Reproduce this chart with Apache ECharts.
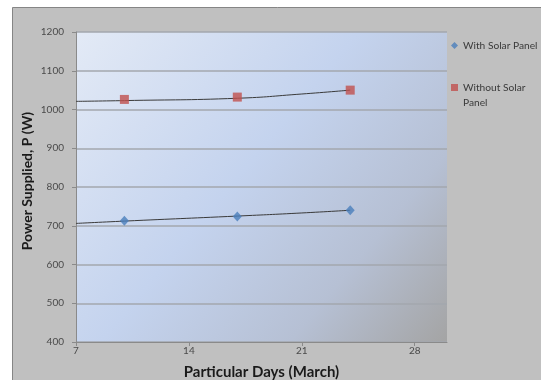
<!DOCTYPE html>
<html>
<head>
<meta charset="utf-8">
<script src="https://cdn.jsdelivr.net/npm/echarts@6/dist/echarts.min.js"></script>
<style>
  html, body { margin: 0; padding: 0; background: #ffffff; }
  #chart { width: 541px; height: 380px; }
</style>
</head>
<body>
<div id="chart"></div>
<script>
// Measured days in March
const days = [10, 17, 24];
// Power supplied (W)
const withSolar = [713, 724, 740];
const withoutSolar = [1026, 1032, 1050];

// Fitted trend curves, drawn from day 7 onward
const trendDays = [7, 10, 17, 21, 24];
const withSolarTrend = [706, 712, 725, 733, 740];
const withoutSolarTrend = [1021, 1023, 1029, 1040, 1050];

const xTicks = [7, 14, 21, 28];
const yTicks = [400, 500, 600, 700, 800, 900, 1000, 1100, 1200];

const FONT = 'Lato, "Open Sans", sans-serif';

const pairs = (xs, ys) => xs.map((x, i) => [x, ys[i]]);

const chart = echarts.init(document.getElementById('chart'), null, { renderer: 'canvas' });

chart.setOption({
  backgroundColor: '#ffffff',
  animation: false,
  graphic: [
    {
      type: 'rect',
      z: -10,
      silent: true,
      shape: { x: 12.5, y: 7.5, width: 540, height: 380 },
      style: { fill: '#c0c0c0', stroke: '#858585', lineWidth: 1 }
    },
    {
      type: 'text',
      silent: true,
      x: 27,
      y: 181,
      rotation: Math.PI / 2,
      style: {
        text: 'Power Supplied, P (W)',
        fontFamily: FONT, fontSize: 14, fontWeight: 'bold',
        fill: '#1a1a1a', align: 'center', verticalAlign: 'middle'
      }
    }
  ],
  grid: {
    left: 76, right: 94, top: 32, bottom: 38,
    containLabel: false,
    outerBoundsMode: 'none',
    show: true,
    borderWidth: 0,
    backgroundColor: new echarts.graphic.LinearGradient(0, 0, 1, 1, [
      { offset: 0, color: '#e3eaf6' },
      { offset: 0.45, color: '#c4d3ee' },
      { offset: 0.75, color: '#b6c0d4' },
      { offset: 1, color: '#a4a4a4' }
    ])
  },
  legend: {
    orient: 'vertical',
    left: 451,
    top: 38,
    padding: 0,
    itemGap: 12,
    itemWidth: 7,
    itemHeight: 7,
    textStyle: { fontFamily: FONT, fontSize: 10.2, color: '#3a3a3a', lineHeight: 15 },
    data: [
      { name: 'With Solar Panel', icon: 'diamond' },
      { name: 'Without Solar Panel', icon: 'rect' }
    ],
    formatter: name => name === 'Without Solar Panel' ? ' \nWithout Solar\nPanel' : name
  },
  xAxis: {
    type: 'value',
    min: 7,
    max: 30,
    interval: 7,
    name: 'Particular Days (March)',
    nameLocation: 'middle',
    nameGap: 23,
    nameTextStyle: { fontFamily: FONT, fontSize: 15, fontWeight: 'bold', color: '#1a1a1a' },
    axisLine: { show: true, lineStyle: { color: '#8a8a8a', width: 1 } },
    axisTick: { show: true, length: 4, lineStyle: { color: '#8a8a8a' } },
    axisLabel: {
      fontFamily: FONT, fontSize: 10, color: '#4a4a4a', margin: 4,
      showMaxLabel: false,
      formatter: v => xTicks.includes(v) ? String(v) : ''
    },
    splitLine: { show: false }
  },
  yAxis: {
    type: 'value',
    min: 400,
    max: 1200,
    interval: 100,
    axisLine: { show: true, lineStyle: { color: '#8a8a8a', width: 1 } },
    axisTick: { show: true, length: 4, lineStyle: { color: '#8a8a8a' } },
    axisLabel: {
      fontFamily: FONT, fontSize: 10, color: '#4a4a4a', margin: 12,
      formatter: v => yTicks.includes(v) ? String(v) : ''
    },
    splitLine: { show: true, lineStyle: { color: '#a3a7ae', width: 1.5 } }
  },
  series: [
    {
      name: 'With Solar Panel trend',
      type: 'line',
      data: pairs(trendDays, withSolarTrend),
      smooth: true,
      showSymbol: false,
      lineStyle: { color: '#3a3a3a', width: 1 },
      silent: true,
      z: 2
    },
    {
      name: 'Without Solar Panel trend',
      type: 'line',
      data: pairs(trendDays, withoutSolarTrend),
      smooth: true,
      showSymbol: false,
      lineStyle: { color: '#3a3a3a', width: 1 },
      silent: true,
      z: 2
    },
    {
      name: 'With Solar Panel',
      type: 'scatter',
      data: pairs(days, withSolar),
      symbol: 'diamond',
      symbolSize: [9, 10],
      itemStyle: { color: '#4a7ebb' },
      z: 3
    },
    {
      name: 'Without Solar Panel',
      type: 'scatter',
      data: pairs(days, withoutSolar),
      symbol: 'rect',
      symbolSize: 9,
      itemStyle: { color: '#c0504d' },
      z: 3
    }
  ]
});
</script>
</body>
</html>
